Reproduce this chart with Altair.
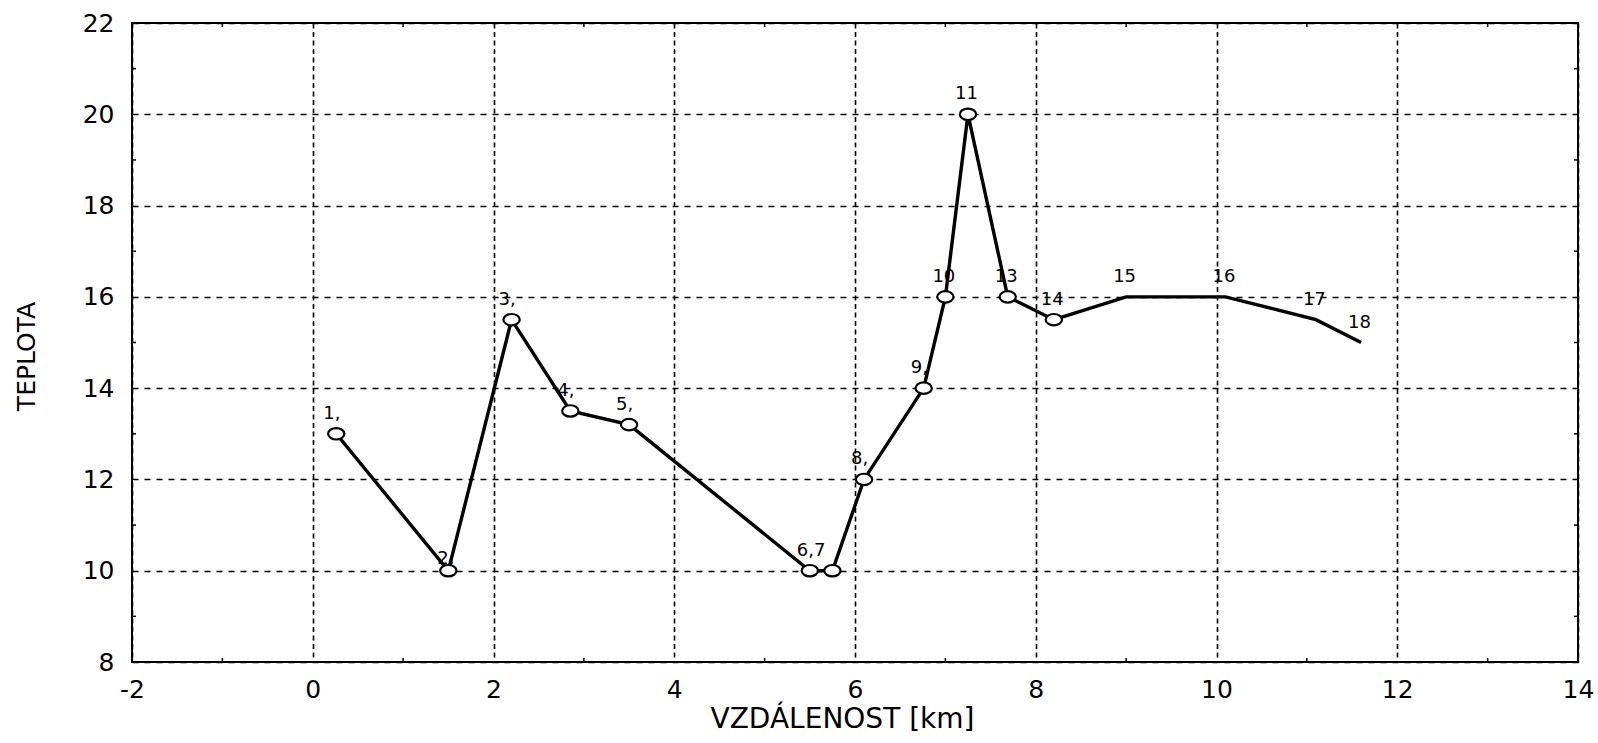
import altair as alt
import pandas as pd

# Data
dist = [0.26, 1.5, 2.2, 2.85, 3.5, 5.5, 5.75, 6.1, 6.76, 7.0, 7.25, 7.69, 8.2, 9.0, 10.1, 11.1, 11.6]
temp = [13, 10, 15.5, 13.5, 13.2, 10, 10, 12, 14, 16, 20, 16, 15.5, 16, 16, 15.5, 15]
labels = ["1,", "2,", "3,", "4,", "5,", "6,7", "", "8,", "9,", "10", "11", "13", "14",
          "15", "16", "17", "18"]
has_marker = [True] * 13 + [False] * 4

x_ticks = [-2, 0, 2, 4, 6, 8, 10, 12, 14]
y_ticks = [8, 10, 12, 14, 16, 18, 20, 22]
x_minor = [-1, 1, 3, 5, 7, 9, 11, 13]
y_minor = [9, 11, 13, 15, 17, 19, 21]

W, H = 1446, 639
FONT = "DejaVu Sans"

df = pd.DataFrame({
    "idx": list(range(len(dist))),
    "dist": dist,
    "temp": temp,
    "label": labels,
    "marker": has_marker,
})
dfx = pd.DataFrame({"v": x_minor})
dfy = pd.DataFrame({"v": y_minor})

xs = alt.Scale(domain=[-2, 14], nice=False, zero=False)
ys = alt.Scale(domain=[8, 22], nice=False, zero=False)

xaxis = alt.Axis(values=x_ticks, title="VZDÁLENOST [km]", grid=True, ticks=False,
                 domain=False, labelPadding=15, labelFontSize=25, labelFont=FONT,
                 labelColor="black", labelExpr="'' + datum.value",
                 titleFont=FONT, titleFontSize=28,
                 titleFontWeight="normal", titleColor="black",
                 titleBaseline="middle", titleY=57, titleX=710,
                 gridColor="black", gridDash=[5, 3.5], gridWidth=1.6, gridOpacity=1,
                 labelFlush=False)
yaxis = alt.Axis(values=y_ticks, title="TEPLOTA", grid=True, ticks=False,
                 domain=False, labelPadding=18, labelFontSize=25, labelFont=FONT,
                 labelColor="black", titleFont=FONT, titleFontSize=25,
                 titleFontWeight="normal", titleColor="black",
                 titleBaseline="middle", titleX=-106, titleY=333,
                 gridColor="black", gridDash=[6, 6], gridWidth=1.7, gridOpacity=1,
                 labelFlush=False)

X = alt.X("dist:Q", scale=xs, axis=xaxis)
Y = alt.Y("temp:Q", scale=ys, axis=yaxis)

base = alt.Chart(df)

line = base.mark_line(color="black", strokeWidth=3.4).encode(x=X, y=Y, order="idx:Q")

ellipse = "M -1 0 A 1 0.7 0 1 1 1 0 A 1 0.7 0 1 1 -1 0 Z"
pts = base.transform_filter("datum.marker").mark_point(
    shape=ellipse, size=265, filled=True, fill="white", stroke="black",
    strokeWidth=2.2, opacity=1).encode(x=X, y=Y)

txt = base.transform_filter("datum.idx != 1").mark_text(
    align="left", baseline="alphabetic", dx=-13, dy=-15, font=FONT,
    fontSize=18, color="black").encode(x=X, y=Y, text="label:N")
txt2 = base.transform_filter("datum.idx == 1").mark_text(
    align="left", baseline="alphabetic", dx=-11, dy=-7, font=FONT,
    fontSize=18, color="black").encode(x=X, y=Y, text="label:N")

XM = alt.X("v:Q", scale=xs, axis=xaxis)
YM = alt.Y("v:Q", scale=ys, axis=yaxis)
mx_bot = alt.Chart(dfx).mark_rule(color="black", strokeWidth=1.5).encode(
    x=XM, y=alt.value(H), y2=alt.value(H - 4))
mx_top = alt.Chart(dfx).mark_rule(color="black", strokeWidth=1.5).encode(
    x=XM, y=alt.value(0), y2=alt.value(4))
my_left = alt.Chart(dfy).mark_rule(color="black", strokeWidth=1.5).encode(
    y=YM, x=alt.value(0), x2=alt.value(4))
my_right = alt.Chart(dfy).mark_rule(color="black", strokeWidth=1.5).encode(
    y=YM, x=alt.value(W), x2=alt.value(W - 4))

chart = alt.layer(line, mx_bot, mx_top, my_left, my_right, txt, txt2, pts).properties(
    width=W, height=H,
    padding={"left": 132, "top": 23, "right": 20, "bottom": 81},
    autosize=alt.AutoSizeParams(type="none"),
    background="white",
).configure_view(stroke="black", strokeWidth=2)

chart.save("out.html", embed_options={"renderer": "svg", "actions": False})
